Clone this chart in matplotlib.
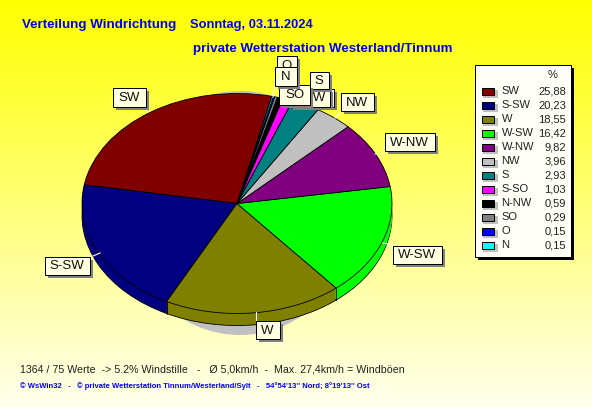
import numpy as np
from matplotlib import pyplot as plt
from matplotlib.patches import Ellipse, Rectangle

plt.rcParams['font.family'] = ['Liberation Sans', 'DejaVu Sans']

# Daten
richtung = ["SW", "S-SW", "W", "W-SW", "W-NW", "NW", "S", "S-SO", "N-NW", "SO", "O", "N"]
prozent = [25.88, 20.23, 18.55, 16.42, 9.82, 3.96, 2.93, 1.03, 0.59, 0.29, 0.15, 0.15]
prozent_text = ["25,88", "20,23", "18,55", "16,42", "9,82", "3,96", "2,93", "1,03", "0,59", "0,29", "0,15", "0,15"]
farben = ["#800000", "#000080", "#808000", "#00ff00", "#800080", "#c0c0c0",
          "#008080", "#ff00ff", "#000000", "#808080", "#0000ff", "#00ffff"]

B, H = 592, 407
CX, CY, RX, RY = 237, 203.5, 155, 110
TIEFE = 12
START = 77

fig = plt.figure(figsize=(B / 100, H / 100), dpi=100)

# Hintergrund mit Verlauf
bg = fig.add_axes([0, 0, 1, 1], zorder=0)
verlauf = np.ones((H, 1, 3))
verlauf[:, 0, 2] = np.linspace(0, 0.93, H)
bg.imshow(verlauf, extent=(0, B, H, 0), aspect='auto')
bg.set_xlim(0, B)
bg.set_ylim(H, 0)
bg.axis('off')
# Schatten unter der Torte
bg.add_patch(Ellipse((240, 213), 230, 244, fc="#c0c0c0", ec="none"))

# Torte
ax = fig.add_axes([0, 0, 1, 1], zorder=1)
ax.patch.set_alpha(0)
for t in range(TIEFE, 0, -1):
    ax.pie(prozent, colors=farben, startangle=START, counterclock=True,
           center=(0, -t / RY), radius=1, wedgeprops=dict(lw=0.6 if t == TIEFE else 0,
                                                         ec="black"))
ax.pie(prozent, colors=farben, startangle=START, counterclock=True,
       center=(0, 0), radius=1, wedgeprops=dict(lw=0.6, ec="black"))
# Kanten der Seitenwand
winkel = np.radians(START + np.cumsum(prozent) * 3.6)
for w in winkel:
    if np.sin(w) < 0:
        ax.plot([np.cos(w)] * 2, [np.sin(w), np.sin(w) - TIEFE / RY], color="black", lw=0.6)
ax.set_aspect('auto')
ax.set_xlim((0 - CX) / RX, (B - CX) / RX)
ax.set_ylim((CY - H) / RY, CY / RY)
ax.axis('off')

# Beschriftung in Pixeln
top = fig.add_axes([0, 0, 1, 1], zorder=2)
top.patch.set_alpha(0)
top.set_xlim(0, B)
top.set_ylim(H, 0)
top.axis('off')


def kasten(x0, y0, x1, y1, text, z, tx=None, ha='center'):
    top.add_patch(Rectangle((x0 + 3, y0 + 3), x1 - x0, y1 - y0, fc="#808080", ec="none", zorder=z))
    top.add_patch(Rectangle((x0, y0), x1 - x0, y1 - y0, fc="#ffffe1", ec="black", lw=0.72, zorder=z + 0.1))
    top.text((x0 + x1) / 2 if tx is None else tx, (y0 + y1) / 2 + 0.5, text, fontsize=9.5,
             ha=ha, va='center', color="#101010", zorder=z + 0.2)


# Fuehrungslinien
fuehrung = [((147, 107), (150, 111)), ((340, 113), (335, 118)), ((384, 153), (375, 154)),
            ((392, 245), (383, 243)), ((255.5, 312), (255.5, 320)), ((100, 253), (93, 256)),
            ((275, 85), (273, 97))]
for a, b in fuehrung:
    top.plot([a[0], b[0]], [a[1], b[1]], color="white", lw=0.8, zorder=3)

kasten(112.5, 88, 145.5, 106.5, "SW", 4)
kasten(45, 256.5, 89.5, 275, "S-SW", 4)
kasten(255.5, 321, 279.5, 339, "W", 4)
kasten(392.5, 246, 442, 264, "W-SW", 4)
kasten(384.5, 133, 434.5, 151, "W-NW", 4)
kasten(341, 93, 373.5, 111, "NW", 4)
kasten(277, 56, 297, 75, "O", 5)
kasten(300, 88.5, 333.5, 107, "S-SO", 5)
kasten(290, 88.5, 330, 107, "N-NW", 6, tx=326, ha='right')
kasten(309.5, 72, 329, 88.5, "S", 7)
kasten(279, 85, 310, 105, "SO", 8)
kasten(275, 67, 296.5, 86, "N", 9)

# Legende
top.add_patch(Rectangle((477.5, 68), 96.5, 192, fc="black", ec="none", zorder=4))
top.add_patch(Rectangle((474.5, 65), 96, 191.5, fc="#fffff8", ec="black", lw=0.72, zorder=5))
top.text(553, 75.5, "%", fontsize=8, ha='center', va='center', color="#202020", zorder=6)
for i, (name, wert, farbe) in enumerate(zip(richtung, prozent_text, farben)):
    y = 91 + i * 14
    top.add_patch(Rectangle((483, y - 1.5), 15, 8, fc="#c0c0c0", ec="none", zorder=6))
    top.add_patch(Rectangle((481.5, y - 3.5), 12, 7, fc=farbe, ec="black", lw=0.72, zorder=7))
    top.text(501.5, y + 0.5, name, fontsize=8, ha='left', va='center', color="#202020", zorder=7)
    top.text(566, y + 0.5, wert, fontsize=8, ha='right', va='center', color="#202020", zorder=7)

# Titel
blau = "#0000ff"
top.text(22, 25, "Verteilung Windrichtung", fontsize=9.6, fontweight='bold', color=blau, va='center')
top.text(190, 25, "Sonntag, 03.11.2024", fontsize=9.3, fontweight='bold', color=blau, va='center')
top.text(193, 49, "private Wetterstation Westerland/Tinnum", fontsize=9.6, fontweight='bold', color=blau, va='center')

# Fusszeilen
top.text(20, 369, "1364 / 75 Werte  -> 5.2% Windstille   -   Ø 5,0km/h  -  Max. 27,4km/h = Windböen",
         fontsize=7.7, color="#202020", va='center')
top.text(20, 386, "© WsWin32   -   © private Wetterstation Tinnum/Westerland/Sylt   -   54°54'13'' Nord; 8°19'13'' Ost",
         fontsize=5.5, fontweight='bold', color=blau, va='center')

fig.savefig("out.png", dpi=100)
